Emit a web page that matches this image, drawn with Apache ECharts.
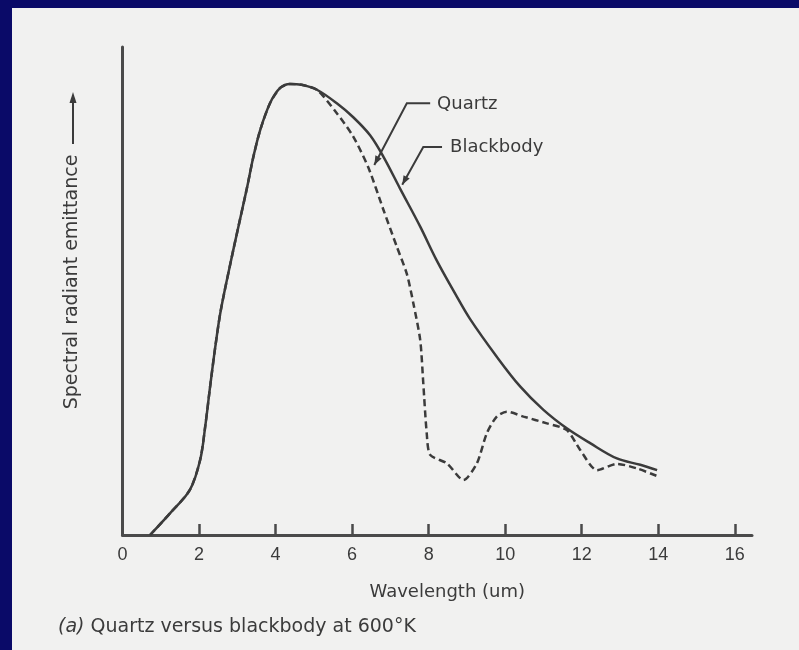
<!DOCTYPE html>
<html>
<head>
<meta charset="utf-8">
<script src="https://cdn.jsdelivr.net/npm/echarts@6/dist/echarts.min.js"></script>
<style>
  html, body { margin: 0; padding: 0; background: #0a0a68; }
  #page { position: absolute; left: 12px; top: 8px; width: 787px; height: 642px; background: #f1f1f0; }
  #main { position: absolute; left: 0; top: 0; width: 799px; height: 650px; }
</style>
</head>
<body>
<div id="page"></div>
<div id="main"></div>
<script>
// wavelength in um, emittance (peak ~ 100)
var bbWave = [0.72, 1.24, 1.76, 2.03, 2.16, 2.29, 2.42, 2.57, 2.9, 3.25, 3.42, 3.6, 3.86, 4.12, 4.38, 4.68, 5.08,
  5.6, 6.03, 6.47, 6.82, 7.25, 7.78, 8.21, 8.7, 9.08, 9.78, 10.39, 11.0, 11.61, 12.22, 12.92, 13.53, 13.97];
var blackbody = [0, 4.8, 10, 16.7, 24, 33, 41.5, 50, 63.5, 77, 84, 90, 96, 99.3, 100.2, 100, 98.9,
  95.9, 92.8, 88.8, 84, 77, 68.5, 61, 53.5, 48, 39.6, 33, 27.8, 23.7, 20.4, 17, 15.6, 14.4];

var qzWave = [0.72, 1.24, 1.76, 2.03, 2.16, 2.29, 2.42, 2.57, 2.9, 3.25, 3.42, 3.6, 3.86, 4.12, 4.38, 4.68, 5.08,
  5.6, 6.03, 6.43, 6.82, 7.17, 7.43, 7.6, 7.78, 7.86, 7.95, 8.04, 8.48, 8.91, 9.26, 9.52, 9.78, 10.04,
  10.48, 11.09, 11.61, 11.96, 12.4, 12.92, 13.44, 13.97];
var quartz = [0, 4.8, 10, 16.7, 24, 33, 41.5, 50, 63.5, 77, 84, 90, 96, 99.3, 100.2, 100, 98.9,
  93.7, 88.5, 81.5, 72.2, 64, 58, 51.5, 43.3, 33.7, 22.6, 17.8, 15.9, 12.2, 15.9, 22.6, 26.3, 27.4,
  26.3, 24.8, 23.3, 18.9, 14.4, 15.8, 14.8, 13.1];

var xTicks = [0, 2, 4, 6, 8, 10, 12, 14, 16];

var ink = '#3b3b3b';
var font = 'Liberation Sans, Arial, sans-serif';

function pairs(xs, ys) {
  return xs.map(function (x, i) { return [x, ys[i]]; });
}

var chart = echarts.init(document.getElementById('main'));
chart.setOption({
  animation: false,
  grid: { left: 122.5, top: 47, right: 47, bottom: 115 },
  xAxis: {
    type: 'value',
    min: 0,
    max: 16.45,
    name: 'Wavelength (um)',
    nameLocation: 'middle',
    nameGap: 48,
    nameTextStyle: { color: ink, fontSize: 18, fontFamily: 'DejaVu Sans', padding: [0, 0, 0, 20] },
    splitLine: { show: false },
    axisLine: { lineStyle: { color: '#4a4a4a', width: 3 } },
    axisTick: { show: true, inside: true, length: 11, customValues: xTicks.slice(1), lineStyle: { color: '#4a4a4a', width: 2.5 } },
    axisLabel: { customValues: xTicks, margin: 11, color: ink, fontSize: 18, fontFamily: font }
  },
  yAxis: {
    type: 'value',
    min: 0,
    max: 108.4,
    splitLine: { show: false },
    axisLine: { show: true, lineStyle: { color: '#4a4a4a', width: 3 } },
    axisTick: { show: false },
    axisLabel: { show: false }
  },
  series: [
    {
      name: 'Blackbody',
      type: 'line',
      data: pairs(bbWave, blackbody),
      showSymbol: false,
      smooth: 0.35,
      lineStyle: { color: ink, width: 2.5 }
    },
    {
      name: 'Quartz',
      type: 'line',
      data: pairs(qzWave, quartz),
      showSymbol: false,
      smooth: 0.25,
      lineStyle: { color: ink, width: 2.5, type: [7, 4] }
    }
  ]
});

// leader lines and labels, anchored in data space
function px(p) { return chart.convertToPixel({ gridIndex: 0 }, p); }

function leader(tip, knee, end, text, textAt) {
  var a = px(tip), k = px(knee), e = px(end), t = px(textAt);
  var ang = Math.atan2(a[1] - k[1], a[0] - k[0]);
  var L = 9, W = 3.5;
  var bx = a[0] - L * Math.cos(ang), by = a[1] - L * Math.sin(ang);
  return [
    { type: 'polyline', shape: { points: [e, k, a] }, style: { stroke: ink, lineWidth: 2, fill: null } },
    { type: 'polygon', shape: { points: [a,
      [bx + W * Math.sin(ang), by - W * Math.cos(ang)],
      [bx - W * Math.sin(ang), by + W * Math.cos(ang)]] }, style: { fill: ink } },
    { type: 'text', x: t[0], y: t[1], style: { text: text, fill: ink, font: '18px DejaVu Sans', verticalAlign: 'middle' } }
  ];
}

var g = [];
g = g.concat(leader([6.58, 82.2], [7.43, 95.9], [8.04, 95.9], 'Quartz', [8.22, 95.6]));
g = g.concat(leader([7.31, 77.8], [7.86, 86.2], [8.35, 86.2], 'Blackbody', [8.56, 86.2]));

// y axis title with arrow
g.push({ type: 'text', x: 72, y: 282, rotation: Math.PI / 2,
  style: { text: 'Spectral radiant emittance', fill: ink, font: '19px DejaVu Sans', align: 'center', verticalAlign: 'middle' } });
g.push({ type: 'line', shape: { x1: 73, y1: 144, x2: 73, y2: 100 }, style: { stroke: ink, lineWidth: 2 } });
g.push({ type: 'polygon', shape: { points: [[73, 92], [69.5, 103], [76.5, 103]] }, style: { fill: ink } });

// caption
g.push({ type: 'text', x: 58, y: 627,
  style: { text: '{i|(a)} Quartz versus blackbody at 600°K', fill: ink, font: '19px DejaVu Sans', verticalAlign: 'middle',
    rich: { i: { fontStyle: 'italic', fontSize: 19, fontFamily: 'DejaVu Sans', fill: ink } } } });

chart.setOption({ graphic: g });
</script>
</body>
</html>
